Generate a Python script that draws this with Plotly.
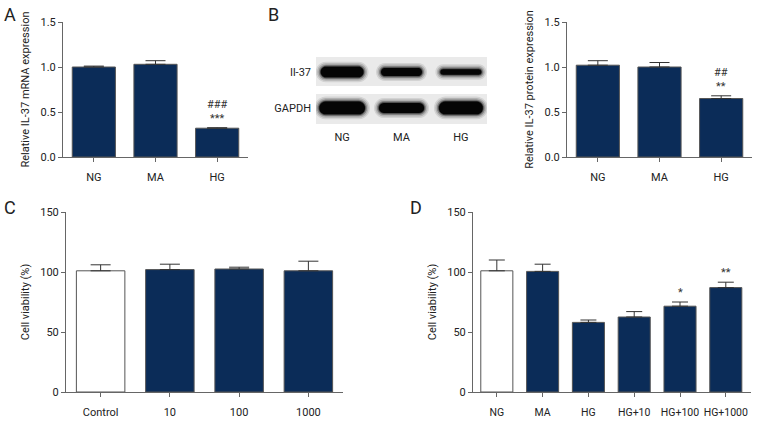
import math
import plotly.graph_objects as go

# ---------------- data ----------------
a_cats = ["NG", "MA", "HG"]
a_vals = [1.00, 1.03, 0.32]
a_errs = [0.01, 0.04, 0.005]
a_sig = ["", "", "###<br>***"]

b_cats = ["NG", "MA", "HG"]
b_vals = [1.02, 1.00, 0.65]
b_errs = [0.05, 0.05, 0.03]
b_sig = ["", "", "##<br>**"]

blot_lanes = ["NG", "MA", "HG"]
blot_rows = ["GAPDH", "Il-37"]
il37_band_width = [0.72, 0.69, 0.69]
il37_band_thick = [0.16, 0.12, 0.08]
gapdh_band_width = [0.77, 0.76, 0.74]
gapdh_band_thick = [0.19, 0.15, 0.19]

c_cats = ["Control", "10", "100", "1000"]
c_vals = [101, 102, 102.5, 101]
c_errs = [5, 4.5, 1.5, 8]

d_cats = ["NG", "MA", "HG", "HG+10", "HG+100", "HG+1000"]
d_vals = [101, 100.5, 58, 62.5, 71.5, 87]
d_errs = [9, 6, 2, 4.5, 3.5, 4.5]
d_sig = ["", "", "", "", "*", "**"]

# ---------------- style ----------------
FONT = "Roboto, Liberation Sans, sans-serif"
NAVY = "#0b2c58"
AX = "#666666"
EDGE = "#555555"
TXT = "#222222"

W, H = 768, 432


def fx(px):
    return px / W


def fy(py):
    return 1 - py / H


fig = go.Figure()


def add_bars(cats, vals, errs, xa, ya, colors, cap):
    fig.add_trace(go.Bar(
        x=cats, y=vals, xaxis=xa, yaxis=ya, width=0.7,
        marker=dict(color=colors, line=dict(color=EDGE, width=1)),
        error_y=dict(type="data", symmetric=False, array=errs,
                     arrayminus=[0] * len(errs), color="#333333",
                     thickness=1, width=cap),
        showlegend=False, hoverinfo="x+y"))


add_bars(a_cats, a_vals, a_errs, "x", "y", [NAVY] * 3, 10)
add_bars(b_cats, b_vals, b_errs, "x2", "y2", [NAVY] * 3, 10)
add_bars(c_cats, c_vals, c_errs, "x3", "y3", ["white"] + [NAVY] * 3, 10)
add_bars(d_cats, d_vals, d_errs, "x4", "y4", ["white"] + [NAVY] * 5, 8)

# invisible trace on blot axes so that they render
fig.add_trace(go.Scatter(x=[0, 1, 2], y=[0.5, 0.5, 0.5], xaxis="x5", yaxis="y5",
                         mode="markers", marker=dict(opacity=0), showlegend=False,
                         hoverinfo="skip"))


def xaxis(domain, anchor, rng, size=11):
    return dict(domain=domain, anchor=anchor, range=rng, showline=True,
                linecolor=AX, linewidth=1, ticks="outside", ticklen=4,
                tickcolor=AX, showgrid=False, zeroline=False, automargin=False,
                tickangle=0,
                tickfont=dict(family=FONT, size=size, color=TXT),
                ticklabelstandoff=6, fixedrange=True)


def yaxis(domain, anchor, rng, dtick, fmt, title):
    return dict(domain=domain, anchor=anchor, range=rng, showline=True,
                linecolor=AX, linewidth=1, ticks="outside", ticklen=4,
                tickcolor=AX, showgrid=False, zeroline=False, automargin=False,
                dtick=dtick, tick0=0, tickformat=fmt,
                tickfont=dict(family=FONT, size=11, color=TXT),
                title=dict(text=title, font=dict(family=FONT, size=11, color=TXT),
                           standoff=8),
                fixedrange=True)


top_y = [fy(157), fy(22)]
bot_y = [fy(392), fy(212)]

layout = dict(
    width=W, height=H, margin=dict(l=0, r=0, t=0, b=0),
    paper_bgcolor="white", plot_bgcolor="white",
    font=dict(family=FONT, color=TXT),
    xaxis=xaxis([fx(63), fx(248)], "y", [-0.5, 2.5]),
    yaxis=yaxis(top_y, "x", [0, 1.5], 0.5, ".1f", "Relative IL-37 mRNA expression"),
    xaxis2=xaxis([fx(567), fx(752)], "y2", [-0.5, 2.5]),
    yaxis2=yaxis(top_y, "x2", [0, 1.5], 0.5, ".1f", "Relative IL-37 protein expression"),
    xaxis3=xaxis([fx(66), fx(343)], "y3", [-0.5, 3.5]),
    yaxis3=yaxis(bot_y, "x3", [0, 150], 50, "d", "Cell viability (%)"),
    xaxis4=xaxis([fx(473), fx(751)], "y4", [-0.52, 5.55], size=10.5),
    yaxis4=yaxis(bot_y, "x4", [0, 150], 50, "d", "Cell viability (%)"),
    xaxis5=dict(domain=[fx(316), fx(487)], anchor="y5", range=[-0.44, 2.44],
                showline=False, showgrid=False, zeroline=False, ticks="",
                tickvals=[0, 1, 2], ticktext=blot_lanes, ticklabelstandoff=5,
                tickfont=dict(family=FONT, size=11, color=TXT), fixedrange=True),
    yaxis5=dict(domain=[fy(124), fy(57)], anchor="x5", range=[0, 1],
                showline=False, showgrid=False, zeroline=False, ticks="",
                tickvals=[0.239, 0.776], ticktext=blot_rows, ticklabelstandoff=4,
                tickfont=dict(family=FONT, size=11, color=TXT), fixedrange=True),
)
fig.update_layout(**layout)

# ---------------- blot drawing ----------------
PX_X = 171 / 2.88   # pixels per lane unit
PX_Y = 67.0         # pixels per y unit


def pill(xc, yc, w, h):
    """rounded band outline (pill) in blot data units"""
    r = h / 2 * PX_Y / PX_X          # end radius in x units
    r = min(r, w / 2)
    pts = []
    for k in range(13):              # right end
        t = -math.pi / 2 + math.pi * k / 12
        pts.append((xc + w / 2 - r + r * math.cos(t), yc + h / 2 * math.sin(t)))
    for k in range(13):              # left end
        t = math.pi / 2 + math.pi * k / 12
        pts.append((xc - w / 2 + r + r * math.cos(t), yc + h / 2 * math.sin(t)))
    return "M " + " L ".join(f"{x:.4f},{y:.4f}" for x, y in pts) + " Z"


shapes = []
row_strips = {"Il-37": (0.567, 1.0), "GAPDH": (0.0, 0.448)}
for rname, (y0, y1) in row_strips.items():
    shapes.append(dict(type="rect", xref="x5 domain", yref="y5", x0=0, x1=1,
                       y0=y0, y1=y1, fillcolor="#eaeaea", line=dict(width=0),
                       layer="below"))

row_centers = {"Il-37": 0.776, "GAPDH": 0.239}
blur = [(5.0, 0.10), (3.5, 0.16), (2.0, 0.28), (0.8, 0.5), (0.0, 1.0)]
for rname, widths, thicks in [("Il-37", il37_band_width, il37_band_thick),
                              ("GAPDH", gapdh_band_width, gapdh_band_thick)]:
    cy = row_centers[rname]
    for i, lane in enumerate(blot_lanes):
        for d, op in blur:
            shapes.append(dict(type="path", xref="x5", yref="y5",
                               path=pill(i, cy, widths[i] + 2 * d / PX_X,
                                         thicks[i] + 2 * d / PX_Y),
                               fillcolor="#050505", opacity=op, line=dict(width=0)))
fig.update_layout(shapes=shapes)

# ---------------- annotations ----------------
ann = []


def add_sig(cats, vals, errs, sig, xa, ya):
    for c, v, e, s in zip(cats, vals, errs, sig):
        if s:
            ann.append(dict(x=c, y=v + e, xref=xa, yref=ya, text=s, showarrow=False,
                            yanchor="bottom", yshift=1,
                            font=dict(family=FONT, size=11, color="#333")))


add_sig(a_cats, a_vals, a_errs, a_sig, "x", "y")
add_sig(b_cats, b_vals, b_errs, b_sig, "x2", "y2")
add_sig(d_cats, d_vals, d_errs, d_sig, "x4", "y4")

for lbl, px, py in [("A", 10, 15), ("B", 273, 15), ("C", 10, 207), ("D", 416, 207)]:
    ann.append(dict(x=fx(px), y=fy(py), xref="paper", yref="paper", text=lbl,
                    showarrow=False, xanchor="center", yanchor="middle",
                    font=dict(family=FONT, size=18, color=TXT)))
fig.update_layout(annotations=ann)

fig.write_html("out.html", config={"displayModeBar": False},
               post_script="document.body.style.margin='0';document.body.style.overflow='hidden';")
